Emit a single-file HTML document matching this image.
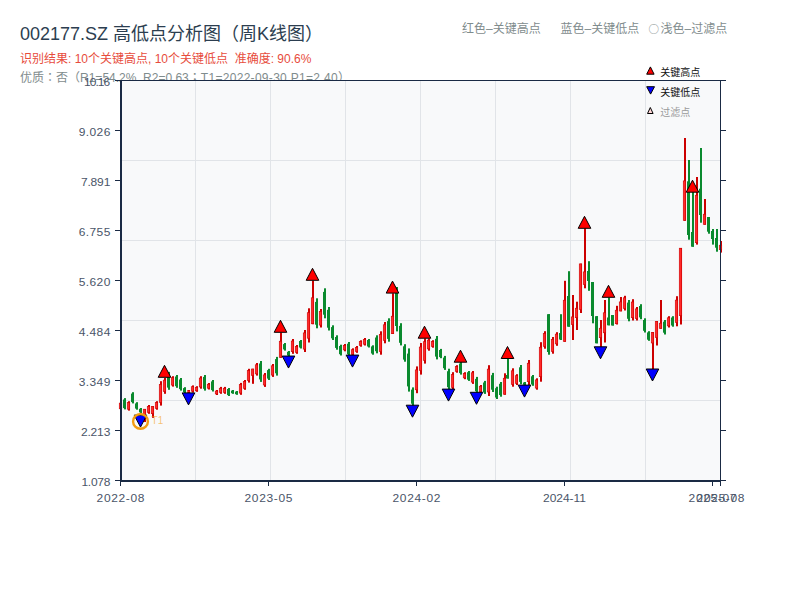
<!DOCTYPE html>
<html lang="zh"><head><meta charset="utf-8"><title>002177.SZ 高低点分析图</title>
<style>
html,body{margin:0;padding:0;background:#fff;}
body{width:800px;height:600px;position:relative;overflow:hidden;font-family:"Liberation Sans","Noto Sans CJK SC",sans-serif;}
.abs{position:absolute;white-space:pre;line-height:1;}
#title{left:20px;top:25px;font-size:18px;color:#2c3e50;}
#sub{left:20px;top:52.5px;font-size:12px;color:#e74c3c;}
#info{left:20px;top:70.7px;font-size:12px;color:#7f8c8d;}
.hl{top:23px;font-size:12px;color:#7f8c8d;}
.tc{font-family:"Noto Sans CJK TC",sans-serif;}
svg{position:absolute;left:0;top:0;}
svg text{font-family:"Liberation Sans","Noto Sans CJK SC",sans-serif;}
.tk{font-size:12px;fill:#4a5568;letter-spacing:0.4px;}
.lg{font-size:10px;fill:#111;}
</style></head><body>
<div id="title" class="abs">002177.SZ 高低点分析图（周K线图）</div>
<div id="sub" class="abs">识别结果: 10个关键高点, 10个关键低点  准确度: 90.6%</div>
<div id="info" class="abs">优质<span class="tc" lang="zh-TW">：</span>否（R1=54.2%  R2=0.63<span class="tc" lang="zh-TW">；</span><span style="letter-spacing:0.3px">T1=2022-09-30 P1=2.40</span>）</div>
<div class="abs hl" style="left:462px">红色–关键高点</div>
<div class="abs hl" style="left:560.5px">蓝色–关键低点</div>
<div class="abs hl" style="left:648.5px"><span style="font-family:'Noto Sans CJK SC',sans-serif;font-size:10.5px;margin-right:1.5px;position:relative;top:-0.5px">○</span>浅色–过滤点</div>
<svg width="800" height="600" viewBox="0 0 800 600">
<rect x="120" y="80" width="601" height="402" fill="#f8f9fa"/>
<rect x="195.0" y="81" width="1" height="399" fill="#e1e4e8"/>
<rect x="270.0" y="81" width="1" height="399" fill="#e1e4e8"/>
<rect x="345.0" y="81" width="1" height="399" fill="#e1e4e8"/>
<rect x="420.0" y="81" width="1" height="399" fill="#e1e4e8"/>
<rect x="495.0" y="81" width="1" height="399" fill="#e1e4e8"/>
<rect x="570.0" y="81" width="1" height="399" fill="#e1e4e8"/>
<rect x="645.0" y="81" width="1" height="399" fill="#e1e4e8"/>
<rect x="122" y="160.0" width="598" height="1" fill="#e1e4e8"/>
<rect x="122" y="240.0" width="598" height="1" fill="#e1e4e8"/>
<rect x="122" y="320.0" width="598" height="1" fill="#e1e4e8"/>
<rect x="122" y="400.0" width="598" height="1" fill="#e1e4e8"/>
<rect x="120" y="401.9" width="2" height="8.1" fill="#cc0000"/>
<rect x="119.25" y="403.1" width="2.5" height="5.7" fill="#ff2a2a" stroke="#cc0000" stroke-width="0.6"/>
<rect x="124" y="398.1" width="2" height="11.3" fill="#0a8a2e"/>
<rect x="123" y="399.5" width="3" height="8.6" fill="#0a8a2e"/>
<rect x="128" y="401.2" width="2" height="9.4" fill="#cc0000"/>
<rect x="127.25" y="402.6" width="2.5" height="6.6" fill="#ff2a2a" stroke="#cc0000" stroke-width="0.6"/>
<rect x="132" y="392.2" width="2" height="11.2" fill="#0a8a2e"/>
<rect x="131" y="393.6" width="3" height="8.5" fill="#0a8a2e"/>
<rect x="136" y="402.2" width="2" height="7.5" fill="#0a8a2e"/>
<rect x="135" y="403.4" width="3" height="5.2" fill="#0a8a2e"/>
<rect x="140" y="408.0" width="2" height="5.0" fill="#0a8a2e"/>
<rect x="139" y="408.8" width="3" height="3.5" fill="#0a8a2e"/>
<rect x="144" y="409.0" width="2" height="13.0" fill="#cc0000"/>
<rect x="143.25" y="409.2" width="2.5" height="5.5" fill="#ff2a2a" stroke="#cc0000" stroke-width="0.6"/>
<rect x="148" y="405.0" width="2" height="8.8" fill="#cc0000"/>
<rect x="147.25" y="406.3" width="2.5" height="6.1" fill="#ff2a2a" stroke="#cc0000" stroke-width="0.6"/>
<rect x="152" y="406.2" width="2" height="11.6" fill="#cc0000"/>
<rect x="151.25" y="406.5" width="2.5" height="7.2" fill="#ff2a2a" stroke="#cc0000" stroke-width="0.6"/>
<rect x="156" y="401.2" width="2" height="8.5" fill="#cc0000"/>
<rect x="155.25" y="402.5" width="2.5" height="6.0" fill="#ff2a2a" stroke="#cc0000" stroke-width="0.6"/>
<rect x="160" y="381.2" width="2" height="24.4" fill="#cc0000"/>
<rect x="159.25" y="384.4" width="2.5" height="18.0" fill="#ff2a2a" stroke="#cc0000" stroke-width="0.6"/>
<rect x="164" y="378.0" width="2" height="15.8" fill="#cc0000"/>
<rect x="163.25" y="380.1" width="2.5" height="11.5" fill="#ff2a2a" stroke="#cc0000" stroke-width="0.6"/>
<rect x="168" y="371.9" width="2" height="17.9" fill="#0a8a2e"/>
<rect x="167" y="374.0" width="3" height="13.6" fill="#0a8a2e"/>
<rect x="172" y="376.2" width="2" height="10.4" fill="#cc0000"/>
<rect x="171.25" y="377.7" width="2.5" height="7.4" fill="#ff2a2a" stroke="#cc0000" stroke-width="0.6"/>
<rect x="176" y="375.0" width="2" height="12.8" fill="#0a8a2e"/>
<rect x="175" y="376.5" width="3" height="9.7" fill="#0a8a2e"/>
<rect x="180" y="378.0" width="2" height="12.6" fill="#0a8a2e"/>
<rect x="179" y="379.5" width="3" height="9.6" fill="#0a8a2e"/>
<rect x="184" y="387.2" width="2" height="5.8" fill="#0a8a2e"/>
<rect x="183" y="388.1" width="3" height="4.0" fill="#0a8a2e"/>
<rect x="188" y="390.0" width="2" height="3.0" fill="#cc0000"/>
<rect x="187.25" y="390.7" width="2.5" height="1.6" fill="#ff2a2a" stroke="#cc0000" stroke-width="0.6"/>
<rect x="192" y="385.4" width="2" height="7.1" fill="#cc0000"/>
<rect x="191.25" y="386.7" width="2.5" height="4.5" fill="#ff2a2a" stroke="#cc0000" stroke-width="0.6"/>
<rect x="196" y="386.2" width="2" height="5.6" fill="#cc0000"/>
<rect x="195.25" y="387.3" width="2.5" height="3.5" fill="#ff2a2a" stroke="#cc0000" stroke-width="0.6"/>
<rect x="200" y="376.2" width="2" height="12.5" fill="#cc0000"/>
<rect x="199.25" y="378.0" width="2.5" height="9.0" fill="#ff2a2a" stroke="#cc0000" stroke-width="0.6"/>
<rect x="204" y="375.0" width="2" height="15.6" fill="#0a8a2e"/>
<rect x="203" y="376.9" width="3" height="11.9" fill="#0a8a2e"/>
<rect x="208" y="383.0" width="2" height="6.5" fill="#cc0000"/>
<rect x="207.25" y="384.2" width="2.5" height="4.0" fill="#ff2a2a" stroke="#cc0000" stroke-width="0.6"/>
<rect x="212" y="380.0" width="2" height="11.5" fill="#0a8a2e"/>
<rect x="211" y="381.4" width="3" height="8.7" fill="#0a8a2e"/>
<rect x="216" y="390.0" width="2" height="5.0" fill="#cc0000"/>
<rect x="215.25" y="391.0" width="2.5" height="3.0" fill="#ff2a2a" stroke="#cc0000" stroke-width="0.6"/>
<rect x="220" y="386.9" width="2" height="6.9" fill="#cc0000"/>
<rect x="219.25" y="388.2" width="2.5" height="4.3" fill="#ff2a2a" stroke="#cc0000" stroke-width="0.6"/>
<rect x="224" y="386.9" width="2" height="6.9" fill="#cc0000"/>
<rect x="223.25" y="388.2" width="2.5" height="4.3" fill="#ff2a2a" stroke="#cc0000" stroke-width="0.6"/>
<rect x="228" y="388.0" width="2" height="8.0" fill="#0a8a2e"/>
<rect x="227" y="389.0" width="3" height="6.1" fill="#0a8a2e"/>
<rect x="232" y="390.0" width="2" height="3.8" fill="#0a8a2e"/>
<rect x="231" y="390.6" width="3" height="2.6" fill="#0a8a2e"/>
<rect x="236" y="391.0" width="2" height="3.8" fill="#0a8a2e"/>
<rect x="235" y="391.6" width="3" height="2.6" fill="#0a8a2e"/>
<rect x="240" y="382.9" width="2" height="11.9" fill="#cc0000"/>
<rect x="239.25" y="384.6" width="2.5" height="8.5" fill="#ff2a2a" stroke="#cc0000" stroke-width="0.6"/>
<rect x="244" y="380.0" width="2" height="9.8" fill="#cc0000"/>
<rect x="243.25" y="381.4" width="2.5" height="6.9" fill="#ff2a2a" stroke="#cc0000" stroke-width="0.6"/>
<rect x="248" y="368.8" width="2" height="13.8" fill="#cc0000"/>
<rect x="247.25" y="370.6" width="2.5" height="10.0" fill="#ff2a2a" stroke="#cc0000" stroke-width="0.6"/>
<rect x="252" y="368.8" width="2" height="15.0" fill="#cc0000"/>
<rect x="251.25" y="369.0" width="2.5" height="6.4" fill="#ff2a2a" stroke="#cc0000" stroke-width="0.6"/>
<rect x="256" y="363.0" width="2" height="12.6" fill="#cc0000"/>
<rect x="255.25" y="364.8" width="2.5" height="9.1" fill="#ff2a2a" stroke="#cc0000" stroke-width="0.6"/>
<rect x="260" y="361.0" width="2" height="20.9" fill="#0a8a2e"/>
<rect x="259" y="363.5" width="3" height="15.9" fill="#0a8a2e"/>
<rect x="264" y="373.0" width="2" height="13.9" fill="#cc0000"/>
<rect x="263.25" y="374.9" width="2.5" height="10.1" fill="#ff2a2a" stroke="#cc0000" stroke-width="0.6"/>
<rect x="268" y="368.8" width="2" height="11.2" fill="#0a8a2e"/>
<rect x="267" y="370.1" width="3" height="8.5" fill="#0a8a2e"/>
<rect x="272" y="364.0" width="2" height="12.9" fill="#cc0000"/>
<rect x="271.25" y="365.8" width="2.5" height="9.3" fill="#ff2a2a" stroke="#cc0000" stroke-width="0.6"/>
<rect x="276" y="356.9" width="2" height="18.7" fill="#0a8a2e"/>
<rect x="275" y="359.1" width="3" height="14.2" fill="#0a8a2e"/>
<rect x="280" y="332.5" width="2" height="25.2" fill="#cc0000"/>
<rect x="279.25" y="341.2" width="2.5" height="16.2" fill="#ff2a2a" stroke="#cc0000" stroke-width="0.6"/>
<rect x="284" y="343.0" width="2" height="7.6" fill="#0a8a2e"/>
<rect x="283" y="344.1" width="3" height="5.3" fill="#0a8a2e"/>
<rect x="288" y="351.0" width="2" height="5.2" fill="#0a8a2e"/>
<rect x="287" y="351.8" width="3" height="3.7" fill="#0a8a2e"/>
<rect x="292" y="339.0" width="2" height="14.8" fill="#cc0000"/>
<rect x="291.25" y="341.0" width="2.5" height="10.7" fill="#ff2a2a" stroke="#cc0000" stroke-width="0.6"/>
<rect x="296" y="345.0" width="2" height="8.8" fill="#cc0000"/>
<rect x="295.25" y="346.3" width="2.5" height="6.1" fill="#ff2a2a" stroke="#cc0000" stroke-width="0.6"/>
<rect x="300" y="340.0" width="2" height="8.5" fill="#0a8a2e"/>
<rect x="299" y="341.0" width="3" height="6.5" fill="#0a8a2e"/>
<rect x="304" y="330.0" width="2" height="22.0" fill="#cc0000"/>
<rect x="303.25" y="332.9" width="2.5" height="16.2" fill="#ff2a2a" stroke="#cc0000" stroke-width="0.6"/>
<rect x="308" y="308.3" width="2" height="34.2" fill="#cc0000"/>
<rect x="307.25" y="312.7" width="2.5" height="25.5" fill="#ff2a2a" stroke="#cc0000" stroke-width="0.6"/>
<rect x="312" y="280.5" width="2" height="43.7" fill="#cc0000"/>
<rect x="311.25" y="297.8" width="2.5" height="26.0" fill="#ff2a2a" stroke="#cc0000" stroke-width="0.6"/>
<rect x="316" y="298.3" width="2" height="30.0" fill="#0a8a2e"/>
<rect x="315" y="301.9" width="3" height="22.8" fill="#0a8a2e"/>
<rect x="320" y="309.0" width="2" height="18.5" fill="#cc0000"/>
<rect x="319.25" y="311.5" width="2.5" height="13.6" fill="#ff2a2a" stroke="#cc0000" stroke-width="0.6"/>
<rect x="324" y="288.3" width="2" height="30.0" fill="#0a8a2e"/>
<rect x="323" y="291.9" width="3" height="22.8" fill="#0a8a2e"/>
<rect x="328" y="307.0" width="2" height="23.5" fill="#0a8a2e"/>
<rect x="327" y="309.8" width="3" height="17.9" fill="#0a8a2e"/>
<rect x="332" y="325.3" width="2" height="14.7" fill="#0a8a2e"/>
<rect x="331" y="327.1" width="3" height="11.2" fill="#0a8a2e"/>
<rect x="336" y="335.3" width="2" height="14.4" fill="#0a8a2e"/>
<rect x="335" y="337.0" width="3" height="10.9" fill="#0a8a2e"/>
<rect x="340" y="344.7" width="2" height="10.8" fill="#0a8a2e"/>
<rect x="339" y="346.0" width="3" height="8.2" fill="#0a8a2e"/>
<rect x="344" y="344.0" width="2" height="7.3" fill="#cc0000"/>
<rect x="343.25" y="345.3" width="2.5" height="4.6" fill="#ff2a2a" stroke="#cc0000" stroke-width="0.6"/>
<rect x="348" y="342.0" width="2" height="13.8" fill="#0a8a2e"/>
<rect x="347" y="343.7" width="3" height="10.5" fill="#0a8a2e"/>
<rect x="352" y="348.3" width="2" height="7.5" fill="#cc0000"/>
<rect x="351.25" y="349.7" width="2.5" height="4.8" fill="#ff2a2a" stroke="#cc0000" stroke-width="0.6"/>
<rect x="356" y="346.0" width="2" height="6.8" fill="#cc0000"/>
<rect x="355.25" y="347.3" width="2.5" height="4.3" fill="#ff2a2a" stroke="#cc0000" stroke-width="0.6"/>
<rect x="360" y="340.3" width="2" height="6.4" fill="#cc0000"/>
<rect x="359.25" y="341.5" width="2.5" height="4.0" fill="#ff2a2a" stroke="#cc0000" stroke-width="0.6"/>
<rect x="364" y="338.0" width="2" height="7.5" fill="#cc0000"/>
<rect x="363.25" y="339.4" width="2.5" height="4.8" fill="#ff2a2a" stroke="#cc0000" stroke-width="0.6"/>
<rect x="368" y="339.0" width="2" height="8.5" fill="#0a8a2e"/>
<rect x="367" y="340.0" width="3" height="6.5" fill="#0a8a2e"/>
<rect x="372" y="345.3" width="2" height="9.4" fill="#0a8a2e"/>
<rect x="371" y="346.4" width="3" height="7.1" fill="#0a8a2e"/>
<rect x="376" y="335.3" width="2" height="18.0" fill="#0a8a2e"/>
<rect x="375" y="337.5" width="3" height="13.7" fill="#0a8a2e"/>
<rect x="380" y="331.3" width="2" height="23.4" fill="#cc0000"/>
<rect x="379.25" y="334.4" width="2.5" height="17.3" fill="#ff2a2a" stroke="#cc0000" stroke-width="0.6"/>
<rect x="384" y="322.0" width="2" height="21.3" fill="#cc0000"/>
<rect x="383.25" y="324.8" width="2.5" height="15.7" fill="#ff2a2a" stroke="#cc0000" stroke-width="0.6"/>
<rect x="388" y="318.3" width="2" height="23.4" fill="#0a8a2e"/>
<rect x="387" y="321.1" width="3" height="17.8" fill="#0a8a2e"/>
<rect x="392" y="293.3" width="2" height="40.7" fill="#cc0000"/>
<rect x="391.25" y="316.2" width="2.5" height="17.5" fill="#ff2a2a" stroke="#cc0000" stroke-width="0.6"/>
<rect x="396" y="287.0" width="2" height="44.4" fill="#0a8a2e"/>
<rect x="395" y="292.3" width="3" height="33.7" fill="#0a8a2e"/>
<rect x="400" y="323.2" width="2" height="22.2" fill="#0a8a2e"/>
<rect x="399" y="325.9" width="3" height="16.9" fill="#0a8a2e"/>
<rect x="404" y="344.2" width="2" height="17.5" fill="#0a8a2e"/>
<rect x="403" y="346.3" width="3" height="13.3" fill="#0a8a2e"/>
<rect x="408" y="348.4" width="2" height="43.2" fill="#0a8a2e"/>
<rect x="407" y="353.6" width="3" height="32.8" fill="#0a8a2e"/>
<rect x="412" y="387.4" width="2" height="18.6" fill="#0a8a2e"/>
<rect x="411" y="389.6" width="3" height="14.1" fill="#0a8a2e"/>
<rect x="416" y="366.4" width="2" height="26.8" fill="#cc0000"/>
<rect x="415.25" y="369.9" width="2.5" height="19.9" fill="#ff2a2a" stroke="#cc0000" stroke-width="0.6"/>
<rect x="420" y="343.0" width="2" height="31.6" fill="#cc0000"/>
<rect x="419.25" y="347.0" width="2.5" height="23.5" fill="#ff2a2a" stroke="#cc0000" stroke-width="0.6"/>
<rect x="424" y="338.4" width="2" height="25.2" fill="#cc0000"/>
<rect x="423.25" y="341.7" width="2.5" height="18.7" fill="#ff2a2a" stroke="#cc0000" stroke-width="0.6"/>
<rect x="428" y="338.4" width="2" height="12.3" fill="#cc0000"/>
<rect x="427.25" y="340.1" width="2.5" height="8.8" fill="#ff2a2a" stroke="#cc0000" stroke-width="0.6"/>
<rect x="432" y="340.2" width="2" height="7.5" fill="#cc0000"/>
<rect x="431.25" y="341.6" width="2.5" height="4.8" fill="#ff2a2a" stroke="#cc0000" stroke-width="0.6"/>
<rect x="436" y="336.0" width="2" height="23.4" fill="#0a8a2e"/>
<rect x="435" y="338.8" width="3" height="17.8" fill="#0a8a2e"/>
<rect x="440" y="348.9" width="2" height="9.3" fill="#0a8a2e"/>
<rect x="439" y="350.0" width="3" height="7.1" fill="#0a8a2e"/>
<rect x="444" y="355.9" width="2" height="14.0" fill="#0a8a2e"/>
<rect x="443" y="357.6" width="3" height="10.6" fill="#0a8a2e"/>
<rect x="448" y="368.7" width="2" height="21.0" fill="#0a8a2e"/>
<rect x="447" y="371.2" width="3" height="16.0" fill="#0a8a2e"/>
<rect x="452" y="372.2" width="2" height="17.5" fill="#cc0000"/>
<rect x="451.25" y="374.6" width="2.5" height="12.8" fill="#ff2a2a" stroke="#cc0000" stroke-width="0.6"/>
<rect x="456" y="365.2" width="2" height="7.5" fill="#cc0000"/>
<rect x="455.25" y="366.6" width="2.5" height="4.8" fill="#ff2a2a" stroke="#cc0000" stroke-width="0.6"/>
<rect x="460" y="362.0" width="2" height="12.6" fill="#0a8a2e"/>
<rect x="459" y="363.5" width="3" height="9.6" fill="#0a8a2e"/>
<rect x="464" y="372.2" width="2" height="7.0" fill="#cc0000"/>
<rect x="463.25" y="373.5" width="2.5" height="4.4" fill="#ff2a2a" stroke="#cc0000" stroke-width="0.6"/>
<rect x="468" y="371.0" width="2" height="9.9" fill="#0a8a2e"/>
<rect x="467" y="372.2" width="3" height="7.5" fill="#0a8a2e"/>
<rect x="472" y="371.0" width="2" height="12.9" fill="#cc0000"/>
<rect x="471.25" y="372.8" width="2.5" height="9.3" fill="#ff2a2a" stroke="#cc0000" stroke-width="0.6"/>
<rect x="476" y="376.9" width="2" height="16.3" fill="#0a8a2e"/>
<rect x="475" y="378.9" width="3" height="12.4" fill="#0a8a2e"/>
<rect x="480" y="385.0" width="2" height="8.2" fill="#cc0000"/>
<rect x="479.25" y="386.2" width="2.5" height="5.7" fill="#ff2a2a" stroke="#cc0000" stroke-width="0.6"/>
<rect x="484" y="380.9" width="2" height="13.0" fill="#0a8a2e"/>
<rect x="483" y="382.5" width="3" height="9.9" fill="#0a8a2e"/>
<rect x="488" y="365.2" width="2" height="30.8" fill="#cc0000"/>
<rect x="487.25" y="369.1" width="2.5" height="22.9" fill="#ff2a2a" stroke="#cc0000" stroke-width="0.6"/>
<rect x="492" y="372.9" width="2" height="19.1" fill="#0a8a2e"/>
<rect x="491" y="375.2" width="3" height="14.5" fill="#0a8a2e"/>
<rect x="496" y="386.7" width="2" height="12.3" fill="#0a8a2e"/>
<rect x="495" y="388.2" width="3" height="9.3" fill="#0a8a2e"/>
<rect x="500" y="382.0" width="2" height="14.7" fill="#0a8a2e"/>
<rect x="499" y="383.8" width="3" height="11.2" fill="#0a8a2e"/>
<rect x="504" y="373.3" width="2" height="21.4" fill="#cc0000"/>
<rect x="503.25" y="378.2" width="2.5" height="16.0" fill="#ff2a2a" stroke="#cc0000" stroke-width="0.6"/>
<rect x="507" y="358.5" width="2" height="20.0" fill="#0a8a2e"/>
<rect x="506" y="375.0" width="3" height="3.5" fill="#0a8a2e"/>
<rect x="512" y="368.3" width="2" height="18.4" fill="#cc0000"/>
<rect x="511.25" y="370.8" width="2.5" height="13.5" fill="#ff2a2a" stroke="#cc0000" stroke-width="0.6"/>
<rect x="516" y="374.2" width="2" height="10.8" fill="#cc0000"/>
<rect x="515.25" y="375.7" width="2.5" height="7.7" fill="#ff2a2a" stroke="#cc0000" stroke-width="0.6"/>
<rect x="520" y="365.0" width="2" height="19.2" fill="#0a8a2e"/>
<rect x="519" y="367.3" width="3" height="14.6" fill="#0a8a2e"/>
<rect x="524" y="382.0" width="2" height="3.3" fill="#0a8a2e"/>
<rect x="523" y="382.5" width="3" height="2.3" fill="#0a8a2e"/>
<rect x="528" y="360.0" width="2" height="25.0" fill="#cc0000"/>
<rect x="527.25" y="363.2" width="2.5" height="18.5" fill="#ff2a2a" stroke="#cc0000" stroke-width="0.6"/>
<rect x="532" y="375.0" width="2" height="10.8" fill="#0a8a2e"/>
<rect x="531" y="376.3" width="3" height="8.2" fill="#0a8a2e"/>
<rect x="536" y="378.3" width="2" height="11.4" fill="#cc0000"/>
<rect x="535.25" y="379.9" width="2.5" height="8.2" fill="#ff2a2a" stroke="#cc0000" stroke-width="0.6"/>
<rect x="540" y="342.2" width="2" height="39.5" fill="#cc0000"/>
<rect x="539.25" y="347.2" width="2.5" height="29.5" fill="#ff2a2a" stroke="#cc0000" stroke-width="0.6"/>
<rect x="544" y="331.2" width="2" height="17.5" fill="#cc0000"/>
<rect x="543.25" y="333.6" width="2.5" height="12.8" fill="#ff2a2a" stroke="#cc0000" stroke-width="0.6"/>
<rect x="548" y="314.2" width="2" height="40.5" fill="#0a8a2e"/>
<rect x="547" y="314.2" width="3" height="37.8" fill="#0a8a2e"/>
<rect x="552" y="337.0" width="2" height="16.7" fill="#cc0000"/>
<rect x="551.25" y="339.3" width="2.5" height="12.2" fill="#ff2a2a" stroke="#cc0000" stroke-width="0.6"/>
<rect x="556" y="332.2" width="2" height="13.6" fill="#cc0000"/>
<rect x="555.25" y="334.1" width="2.5" height="9.8" fill="#ff2a2a" stroke="#cc0000" stroke-width="0.6"/>
<rect x="560" y="314.2" width="2" height="25.8" fill="#0a8a2e"/>
<rect x="559" y="333.0" width="3" height="6.5" fill="#0a8a2e"/>
<rect x="564" y="280.8" width="2" height="60.9" fill="#cc0000"/>
<rect x="563.25" y="300.2" width="2.5" height="41.2" fill="#ff2a2a" stroke="#cc0000" stroke-width="0.6"/>
<rect x="568" y="271.2" width="2" height="55.5" fill="#0a8a2e"/>
<rect x="567" y="296.0" width="3" height="30.7" fill="#0a8a2e"/>
<rect x="572" y="295.0" width="2" height="45.0" fill="#cc0000"/>
<rect x="571.25" y="316.9" width="2.5" height="7.8" fill="#ff2a2a" stroke="#cc0000" stroke-width="0.6"/>
<rect x="576" y="301.7" width="2" height="28.3" fill="#cc0000"/>
<rect x="575.25" y="308.2" width="2.5" height="9.5" fill="#ff2a2a" stroke="#cc0000" stroke-width="0.6"/>
<rect x="580" y="263.7" width="2" height="49.3" fill="#cc0000"/>
<rect x="579.25" y="263.9" width="2.5" height="45.8" fill="#ff2a2a" stroke="#cc0000" stroke-width="0.6"/>
<rect x="584" y="228.3" width="2" height="60.0" fill="#cc0000"/>
<rect x="583.25" y="271.9" width="2.5" height="12.8" fill="#ff2a2a" stroke="#cc0000" stroke-width="0.6"/>
<rect x="588" y="261.2" width="2" height="29.6" fill="#0a8a2e"/>
<rect x="587" y="271.0" width="3" height="10.0" fill="#0a8a2e"/>
<rect x="592" y="282.0" width="2" height="41.3" fill="#0a8a2e"/>
<rect x="591" y="282.0" width="3" height="34.0" fill="#0a8a2e"/>
<rect x="596" y="316.2" width="2" height="27.1" fill="#0a8a2e"/>
<rect x="595" y="316.2" width="3" height="27.1" fill="#0a8a2e"/>
<rect x="600" y="320.0" width="2" height="27.0" fill="#cc0000"/>
<rect x="599.25" y="328.2" width="2.5" height="9.5" fill="#ff2a2a" stroke="#cc0000" stroke-width="0.6"/>
<rect x="604" y="300.0" width="2" height="42.5" fill="#cc0000"/>
<rect x="603.25" y="312.8" width="2.5" height="20.0" fill="#ff2a2a" stroke="#cc0000" stroke-width="0.6"/>
<rect x="608" y="297.5" width="2" height="27.8" fill="#0a8a2e"/>
<rect x="607" y="317.5" width="3" height="7.8" fill="#0a8a2e"/>
<rect x="612" y="315.0" width="2" height="10.5" fill="#0a8a2e"/>
<rect x="611" y="315.0" width="3" height="10.5" fill="#0a8a2e"/>
<rect x="616" y="305.8" width="2" height="18.7" fill="#cc0000"/>
<rect x="615.25" y="310.2" width="2.5" height="13.5" fill="#ff2a2a" stroke="#cc0000" stroke-width="0.6"/>
<rect x="620" y="297.0" width="2" height="14.3" fill="#cc0000"/>
<rect x="619.25" y="301.9" width="2.5" height="9.1" fill="#ff2a2a" stroke="#cc0000" stroke-width="0.6"/>
<rect x="624" y="295.8" width="2" height="14.7" fill="#cc0000"/>
<rect x="623.25" y="297.8" width="2.5" height="10.7" fill="#ff2a2a" stroke="#cc0000" stroke-width="0.6"/>
<rect x="628" y="300.0" width="2" height="21.3" fill="#0a8a2e"/>
<rect x="627" y="302.6" width="3" height="16.2" fill="#0a8a2e"/>
<rect x="632" y="299.2" width="2" height="21.3" fill="#cc0000"/>
<rect x="631.25" y="302.0" width="2.5" height="15.7" fill="#ff2a2a" stroke="#cc0000" stroke-width="0.6"/>
<rect x="636" y="307.0" width="2" height="13.5" fill="#cc0000"/>
<rect x="635.25" y="308.9" width="2.5" height="9.8" fill="#ff2a2a" stroke="#cc0000" stroke-width="0.6"/>
<rect x="640" y="304.2" width="2" height="15.0" fill="#0a8a2e"/>
<rect x="639" y="306.0" width="3" height="11.4" fill="#0a8a2e"/>
<rect x="644" y="318.3" width="2" height="14.2" fill="#0a8a2e"/>
<rect x="643" y="320.0" width="3" height="10.8" fill="#0a8a2e"/>
<rect x="648" y="331.2" width="2" height="9.6" fill="#0a8a2e"/>
<rect x="647" y="332.4" width="3" height="7.3" fill="#0a8a2e"/>
<rect x="652" y="332.2" width="2" height="37.0" fill="#cc0000"/>
<rect x="651.25" y="332.4" width="2.5" height="10.6" fill="#ff2a2a" stroke="#cc0000" stroke-width="0.6"/>
<rect x="656" y="321.2" width="2" height="24.3" fill="#cc0000"/>
<rect x="655.25" y="321.4" width="2.5" height="16.3" fill="#ff2a2a" stroke="#cc0000" stroke-width="0.6"/>
<rect x="660" y="300.0" width="2" height="28.7" fill="#cc0000"/>
<rect x="659.25" y="323.2" width="2.5" height="5.2" fill="#ff2a2a" stroke="#cc0000" stroke-width="0.6"/>
<rect x="664" y="320.0" width="2" height="14.5" fill="#0a8a2e"/>
<rect x="663" y="321.7" width="3" height="11.0" fill="#0a8a2e"/>
<rect x="668" y="316.2" width="2" height="11.3" fill="#cc0000"/>
<rect x="667.25" y="317.8" width="2.5" height="8.1" fill="#ff2a2a" stroke="#cc0000" stroke-width="0.6"/>
<rect x="672" y="316.2" width="2" height="10.5" fill="#0a8a2e"/>
<rect x="671" y="317.5" width="3" height="8.0" fill="#0a8a2e"/>
<rect x="676" y="296.2" width="2" height="30.1" fill="#cc0000"/>
<rect x="675.25" y="300.1" width="2.5" height="22.4" fill="#ff2a2a" stroke="#cc0000" stroke-width="0.6"/>
<rect x="680" y="248.0" width="2" height="76.5" fill="#cc0000"/>
<rect x="679.25" y="248.2" width="2.5" height="67.5" fill="#ff2a2a" stroke="#cc0000" stroke-width="0.6"/>
<rect x="684" y="138.0" width="2" height="82.7" fill="#cc0000"/>
<rect x="683.25" y="180.9" width="2.5" height="39.5" fill="#ff2a2a" stroke="#cc0000" stroke-width="0.6"/>
<rect x="688" y="160.0" width="2" height="79.7" fill="#0a8a2e"/>
<rect x="687" y="181.3" width="3" height="53.7" fill="#0a8a2e"/>
<rect x="692" y="190.0" width="2" height="56.7" fill="#0a8a2e"/>
<rect x="691" y="232.0" width="3" height="14.7" fill="#0a8a2e"/>
<rect x="696" y="177.0" width="2" height="67.6" fill="#cc0000"/>
<rect x="695.25" y="195.2" width="2.5" height="47.5" fill="#ff2a2a" stroke="#cc0000" stroke-width="0.6"/>
<rect x="700" y="148.0" width="2" height="74.7" fill="#0a8a2e"/>
<rect x="699" y="188.7" width="3" height="26.3" fill="#0a8a2e"/>
<rect x="704" y="199.0" width="2" height="25.6" fill="#cc0000"/>
<rect x="703.25" y="214.2" width="2.5" height="10.1" fill="#ff2a2a" stroke="#cc0000" stroke-width="0.6"/>
<rect x="708" y="217.0" width="2" height="16.7" fill="#0a8a2e"/>
<rect x="707" y="217.0" width="3" height="14.7" fill="#0a8a2e"/>
<rect x="712" y="229.0" width="2" height="15.6" fill="#0a8a2e"/>
<rect x="711" y="231.0" width="3" height="8.0" fill="#0a8a2e"/>
<rect x="716" y="229.0" width="2" height="22.7" fill="#0a8a2e"/>
<rect x="715" y="238.0" width="3" height="9.7" fill="#0a8a2e"/>
<rect x="720" y="241.0" width="2" height="11.6" fill="#cc0000"/>
<rect x="719.25" y="245.2" width="2.5" height="4.5" fill="#ff2a2a" stroke="#cc0000" stroke-width="0.6"/>
<rect x="120" y="80" width="2" height="402" fill="#1a2a44"/>
<rect x="120" y="480" width="601" height="2" fill="#1a2a44"/>
<rect x="120" y="80" width="601" height="1" fill="#1a2a44"/>
<rect x="720" y="80" width="1" height="402" fill="#1a2a44"/>
<rect x="115" y="80" width="5" height="1" fill="#1a2a44"/>
<rect x="721" y="80" width="5" height="1" fill="#1a2a44"/>
<text class="tk" transform="translate(109.40,85.8) scale(1,0.93)" text-anchor="end" style="letter-spacing:-0.9px">10.16</text>
<rect x="115" y="130" width="5" height="1" fill="#1a2a44"/>
<rect x="721" y="130" width="5" height="1" fill="#1a2a44"/>
<text class="tk" transform="translate(110.70,135.8) scale(1,0.93)" text-anchor="end" style="letter-spacing:0.4px">9.026</text>
<rect x="115" y="180" width="5" height="1" fill="#1a2a44"/>
<rect x="721" y="180" width="5" height="1" fill="#1a2a44"/>
<text class="tk" transform="translate(110.15,185.8) scale(1,0.93)" text-anchor="end" style="letter-spacing:-0.15px">7.891</text>
<rect x="115" y="230" width="5" height="1" fill="#1a2a44"/>
<rect x="721" y="230" width="5" height="1" fill="#1a2a44"/>
<text class="tk" transform="translate(110.70,235.8) scale(1,0.93)" text-anchor="end" style="letter-spacing:0.4px">6.755</text>
<rect x="115" y="280" width="5" height="1" fill="#1a2a44"/>
<rect x="721" y="280" width="5" height="1" fill="#1a2a44"/>
<text class="tk" transform="translate(110.70,285.8) scale(1,0.93)" text-anchor="end" style="letter-spacing:0.4px">5.620</text>
<rect x="115" y="330" width="5" height="1" fill="#1a2a44"/>
<rect x="721" y="330" width="5" height="1" fill="#1a2a44"/>
<text class="tk" transform="translate(110.70,335.8) scale(1,0.93)" text-anchor="end" style="letter-spacing:0.4px">4.484</text>
<rect x="115" y="380" width="5" height="1" fill="#1a2a44"/>
<rect x="721" y="380" width="5" height="1" fill="#1a2a44"/>
<text class="tk" transform="translate(110.70,385.8) scale(1,0.93)" text-anchor="end" style="letter-spacing:0.4px">3.349</text>
<rect x="115" y="430" width="5" height="1" fill="#1a2a44"/>
<rect x="721" y="430" width="5" height="1" fill="#1a2a44"/>
<text class="tk" transform="translate(110.15,435.8) scale(1,0.93)" text-anchor="end" style="letter-spacing:-0.15px">2.213</text>
<rect x="115" y="480" width="5" height="1" fill="#1a2a44"/>
<rect x="721" y="480" width="5" height="1" fill="#1a2a44"/>
<text class="tk" transform="translate(110.00,485.8) scale(1,0.93)" text-anchor="end" style="letter-spacing:-0.3px">1.078</text>
<rect x="120" y="482" width="1" height="4" fill="#1a2a44"/>
<text class="tk" transform="translate(120.83,502) scale(1,0.93)" text-anchor="middle" style="letter-spacing:0.65px">2022-08</text>
<rect x="268" y="482" width="1" height="4" fill="#1a2a44"/>
<text class="tk" transform="translate(268.82,502) scale(1,0.93)" text-anchor="middle" style="letter-spacing:0.65px">2023-05</text>
<rect x="416" y="482" width="1" height="4" fill="#1a2a44"/>
<text class="tk" transform="translate(416.82,502) scale(1,0.93)" text-anchor="middle" style="letter-spacing:0.65px">2024-02</text>
<rect x="564" y="482" width="1" height="4" fill="#1a2a44"/>
<text class="tk" transform="translate(564.48,502) scale(1,0.93)" text-anchor="middle" style="letter-spacing:-0.05px">2024-11</text>
<rect x="712" y="482" width="1" height="4" fill="#1a2a44"/>
<text class="tk" transform="translate(712.83,502) scale(1,0.93)" text-anchor="middle" style="letter-spacing:0.65px">2025-07</text>
<rect x="720" y="482" width="1" height="4" fill="#1a2a44"/>
<text class="tk" transform="translate(720.83,502) scale(1,0.93)" text-anchor="middle" style="letter-spacing:0.65px">2025-08</text>
<path d="M158.20 377.30L170.80 377.30L164.50 365.30Z" fill="#ff0000" stroke="#000" stroke-width="1" stroke-linejoin="miter"/>
<path d="M274.20 332.30L286.80 332.30L280.50 320.30Z" fill="#ff0000" stroke="#000" stroke-width="1" stroke-linejoin="miter"/>
<path d="M306.20 280.30L318.80 280.30L312.50 268.30Z" fill="#ff0000" stroke="#000" stroke-width="1" stroke-linejoin="miter"/>
<path d="M386.20 293.10L398.80 293.10L392.50 281.10Z" fill="#ff0000" stroke="#000" stroke-width="1" stroke-linejoin="miter"/>
<path d="M418.20 338.20L430.80 338.20L424.50 326.20Z" fill="#ff0000" stroke="#000" stroke-width="1" stroke-linejoin="miter"/>
<path d="M454.20 362.20L466.80 362.20L460.50 350.20Z" fill="#ff0000" stroke="#000" stroke-width="1" stroke-linejoin="miter"/>
<path d="M501.20 358.50L513.80 358.50L507.50 346.50Z" fill="#ff0000" stroke="#000" stroke-width="1" stroke-linejoin="miter"/>
<path d="M578.20 228.30L590.80 228.30L584.50 216.30Z" fill="#ff0000" stroke="#000" stroke-width="1" stroke-linejoin="miter"/>
<path d="M602.20 297.30L614.80 297.30L608.50 285.30Z" fill="#ff0000" stroke="#000" stroke-width="1" stroke-linejoin="miter"/>
<path d="M686.20 192.20L698.80 192.20L692.50 180.20Z" fill="#ff0000" stroke="#000" stroke-width="1" stroke-linejoin="miter"/>
<path d="M134.20 415.10L146.80 415.10L140.50 427.10Z" fill="#0000ff" stroke="#000" stroke-width="1" stroke-linejoin="miter"/>
<path d="M182.20 392.90L194.80 392.90L188.50 404.90Z" fill="#0000ff" stroke="#000" stroke-width="1" stroke-linejoin="miter"/>
<path d="M282.20 356.05L294.80 356.05L288.50 368.05Z" fill="#0000ff" stroke="#000" stroke-width="1" stroke-linejoin="miter"/>
<path d="M346.20 355.10L358.80 355.10L352.50 367.10Z" fill="#0000ff" stroke="#000" stroke-width="1" stroke-linejoin="miter"/>
<path d="M406.20 405.20L418.80 405.20L412.50 417.20Z" fill="#0000ff" stroke="#000" stroke-width="1" stroke-linejoin="miter"/>
<path d="M442.20 389.10L454.80 389.10L448.50 401.10Z" fill="#0000ff" stroke="#000" stroke-width="1" stroke-linejoin="miter"/>
<path d="M470.20 392.30L482.80 392.30L476.50 404.30Z" fill="#0000ff" stroke="#000" stroke-width="1" stroke-linejoin="miter"/>
<path d="M518.20 385.10L530.80 385.10L524.50 397.10Z" fill="#0000ff" stroke="#000" stroke-width="1" stroke-linejoin="miter"/>
<path d="M594.20 346.80L606.80 346.80L600.50 358.80Z" fill="#0000ff" stroke="#000" stroke-width="1" stroke-linejoin="miter"/>
<path d="M646.20 369.00L658.80 369.00L652.50 381.00Z" fill="#0000ff" stroke="#000" stroke-width="1" stroke-linejoin="miter"/>
<circle cx="140.5" cy="421.4" r="7.4" fill="none" stroke="#f39c12" stroke-width="2.4"/>
<text transform="translate(151.6,423.9) scale(0.84,1)" font-size="11.8" fill="#f39c12" fill-opacity="0.6" class="t1">T1</text>
<path d="M646.70 74.20L654.10 74.20L650.40 66.90Z" fill="#ff0000" stroke="#000" stroke-width="1" stroke-linejoin="miter"/>
<path d="M646.70 86.70L654.50 86.70L650.60 94.10Z" fill="#0000ff" stroke="#000" stroke-width="1" stroke-linejoin="miter"/>
<path d="M647.50 113.50L653.10 113.50L650.30 107.50Z" fill="#ffd6d6" stroke="#000" stroke-width="1" stroke-linejoin="miter"/>
<text class="lg" x="660.3" y="76.3">关键高点</text>
<text class="lg" x="660.3" y="96.2">关键低点</text>
<text class="lg" x="660.3" y="116" style="fill:#9a9a9a">过滤点</text>
</svg>
</body></html>
